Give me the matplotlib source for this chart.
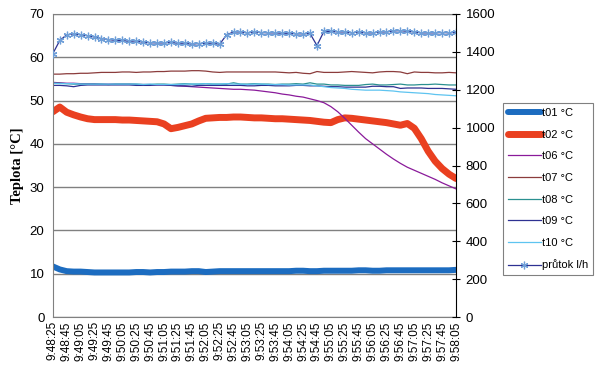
import matplotlib.pyplot as plt
import numpy as np

# time labels shown on the x axis (every 2nd sample, samples are 10 s apart)
time_labels = ['9:48:25', '9:48:45', '9:49:05', '9:49:25', '9:49:45', '9:50:05',
               '9:50:25', '9:50:45', '9:51:05', '9:51:25', '9:51:45', '9:52:05',
               '9:52:25', '9:52:45', '9:53:05', '9:53:25', '9:53:45', '9:54:05',
               '9:54:25', '9:54:45', '9:55:05', '9:55:25', '9:55:45', '9:56:05',
               '9:56:25', '9:56:45', '9:57:05', '9:57:25', '9:57:45', '9:58:05']

t01 = [11.7, 11.0, 10.6, 10.5, 10.5, 10.4, 10.3, 10.3, 10.3, 10.3,
       10.3, 10.3, 10.4, 10.4, 10.3, 10.4, 10.4, 10.5, 10.5, 10.5,
       10.6, 10.6, 10.4, 10.5, 10.6, 10.6, 10.6, 10.6, 10.6, 10.6,
       10.6, 10.6, 10.6, 10.6, 10.6, 10.7, 10.7, 10.6, 10.6, 10.7,
       10.7, 10.7, 10.7, 10.7, 10.8, 10.8, 10.7, 10.7, 10.8, 10.8,
       10.8, 10.8, 10.8, 10.8, 10.8, 10.8, 10.8, 10.8, 10.9]
t02 = [47.4, 48.5, 47.3, 46.7, 46.2, 45.8, 45.6, 45.6, 45.6, 45.6,
       45.5, 45.5, 45.4, 45.3, 45.2, 45.1, 44.6, 43.5, 43.8, 44.2,
       44.6, 45.3, 45.9, 46.0, 46.1, 46.1, 46.2, 46.2, 46.1, 46.0,
       46.0, 45.9, 45.8, 45.8, 45.7, 45.6, 45.5, 45.4, 45.2, 45.0,
       44.9, 45.6, 46.0, 45.9, 45.7, 45.5, 45.3, 45.1, 44.9, 44.6,
       44.3, 44.7, 43.6, 41.2, 38.3, 36.0, 34.3, 33.0, 32.0]
t06 = [54.2, 54.1, 54.0, 54.0, 53.9, 53.9, 53.9, 53.8, 53.8, 53.8,
       53.8, 53.8, 53.7, 53.7, 53.7, 53.6, 53.6, 53.5, 53.4, 53.3,
       53.2, 53.1, 53.0, 52.9, 52.8, 52.7, 52.6, 52.6, 52.5, 52.4,
       52.2, 52.0, 51.8, 51.5, 51.3, 51.0, 50.8, 50.4, 50.0, 49.5,
       48.6, 47.4, 45.9, 44.3, 42.7, 41.2, 40.0, 38.8, 37.6, 36.5,
       35.5, 34.6, 33.9, 33.2, 32.5, 31.8, 31.0, 30.3, 29.6]
t07 = [56.1, 56.1, 56.2, 56.2, 56.3, 56.3, 56.4, 56.5, 56.5, 56.5,
       56.6, 56.6, 56.5, 56.6, 56.6, 56.7, 56.7, 56.8, 56.8, 56.8,
       56.9, 56.9, 56.8, 56.6, 56.5, 56.6, 56.6, 56.6, 56.6, 56.6,
       56.6, 56.6, 56.6, 56.5, 56.4, 56.5, 56.3, 56.2, 56.7, 56.5,
       56.5, 56.5, 56.6, 56.7, 56.6, 56.5, 56.4, 56.6, 56.7, 56.7,
       56.6, 56.2, 56.6, 56.5, 56.5, 56.4, 56.4, 56.5, 56.4]
t08 = [54.0, 54.0, 53.9, 53.8, 53.8, 53.8, 53.8, 53.8, 53.7, 53.8,
       53.8, 53.8, 53.8, 53.7, 53.7, 53.8, 53.8, 53.7, 53.8, 53.9,
       53.8, 53.8, 53.9, 53.8, 53.8, 53.8, 54.1, 53.8, 53.8, 53.9,
       53.8, 53.8, 53.7, 53.8, 53.8, 53.9, 53.8, 54.1, 53.8, 53.8,
       53.6, 53.6, 53.5, 53.5, 53.5, 53.7, 53.8, 53.6, 53.6, 53.7,
       53.8, 53.6, 53.6, 53.7, 53.7, 53.8, 53.7, 53.6, 53.6]
t09 = [53.5, 53.5, 53.4, 53.2, 53.5, 53.6, 53.6, 53.6, 53.6, 53.6,
       53.6, 53.6, 53.5, 53.5, 53.5, 53.6, 53.6, 53.5, 53.4, 53.4,
       53.3, 53.5, 53.5, 53.5, 53.5, 53.5, 53.5, 53.5, 53.4, 53.4,
       53.5, 53.5, 53.4, 53.4, 53.4, 53.5, 53.5, 53.4, 53.4, 53.3,
       53.2, 53.2, 53.1, 53.1, 53.1, 53.1, 53.3, 53.3, 53.2, 53.2,
       52.8, 52.9, 52.9, 52.9, 52.8, 52.8, 52.8, 52.7, 52.6]
t10 = [54.0, 53.9, 53.9, 53.9, 53.8, 53.8, 53.8, 53.8, 53.8, 53.8,
       53.8, 53.8, 53.8, 53.7, 53.8, 53.7, 53.7, 53.7, 53.7, 53.8,
       53.8, 53.8, 53.9, 53.8, 53.8, 53.9, 53.8, 53.8, 53.7, 53.8,
       53.8, 53.7, 53.7, 53.7, 53.6, 53.6, 53.6, 53.6, 53.4, 53.2,
       53.0, 52.9, 52.8, 52.6, 52.5, 52.4, 52.4, 52.4, 52.3, 52.2,
       52.0, 51.9, 51.8, 51.7, 51.6, 51.4, 51.3, 51.2, 51.1]
prutok = [1390, 1460, 1490, 1495, 1490, 1485, 1478, 1470, 1465, 1460,
          1460, 1455, 1458, 1450, 1448, 1447, 1447, 1450, 1445, 1446,
          1440, 1444, 1445, 1446, 1440, 1490, 1505, 1505, 1500, 1505,
          1502, 1500, 1500, 1498, 1498, 1495, 1495, 1497, 1433, 1508,
          1508, 1505, 1505, 1500, 1505, 1500, 1500, 1505, 1505, 1510,
          1512, 1508, 1505, 1500, 1500, 1500, 1502, 1500, 1503]

x = np.arange(len(t01))

plt.rcParams['font.family'] = ['Liberation Sans', 'DejaVu Sans']

fig = plt.figure(figsize=(6, 3.77), dpi=100)
ax = fig.add_axes([0.088, 0.159, 0.672, 0.804])
ax2 = ax.twinx()

l1, = ax.plot(x, t01, color='#1c6cc0', lw=4.3, solid_capstyle='round', label='t01 °C')
l2, = ax.plot(x, t02, color='#ea4020', lw=5.0, solid_capstyle='round', label='t02 °C')
l6, = ax.plot(x, t06, color='#8a1a9a', lw=0.9, label='t06 °C')
l7, = ax.plot(x, t07, color='#8b3c3c', lw=0.9, label='t07 °C')
l8, = ax.plot(x, t08, color='#2a9090', lw=0.9, label='t08 °C')
l9, = ax.plot(x, t09, color='#2e3192', lw=0.9, label='t09 °C')
l10, = ax.plot(x, t10, color='#5ec4f0', lw=0.9, label='t10 °C')
lp, = ax2.plot(x, prutok, color='#2e3192', lw=0.9, marker=(6, 2, 0), ms=5.5,
               mec='#6f9fd8', mew=0.9, label='průtok l/h')

ax.set_xlim(0, len(x) - 1)
ax.set_ylim(0, 70)
ax.set_yticks(range(0, 71, 10))
ax2.set_ylim(0, 1600)
ax2.set_yticks(range(0, 1601, 200))

ax.set_xticks(x[::2])
ax.set_xticklabels(time_labels, rotation=90, fontsize=8.5)
ax.tick_params(axis='y', length=0, labelsize=9.5, pad=6)
ax.tick_params(axis='x', length=0, pad=3)
ax2.tick_params(axis='y', direction='inout', length=6, labelsize=9.5, pad=4)

ax.grid(axis='y', color='#808080', lw=1)
ax.set_axisbelow(True)
for s in ['left', 'top', 'bottom']:
    ax.spines[s].set_color('#808080')
for s in ['left', 'top', 'bottom']:
    ax2.spines[s].set_visible(False)
ax.spines['right'].set_visible(False)
ax2.spines['right'].set_color('black')

ax.set_ylabel('Teplota [°C]', family=['Liberation Serif', 'DejaVu Serif'],
              fontweight='bold', fontsize=10.5, labelpad=4)

leg = fig.legend(handles=[l1, l2, l6, l7, l8, l9, l10, lp],
                 loc='upper left', bbox_to_anchor=(0.838, 0.727),
                 fontsize=8, frameon=True, fancybox=False, edgecolor='#606060',
                 handlelength=3.0, handletextpad=0.1, labelspacing=1.05,
                 borderpad=0.45, borderaxespad=0)
leg.get_frame().set_linewidth(0.8)

fig.savefig('out.png', dpi=100)
